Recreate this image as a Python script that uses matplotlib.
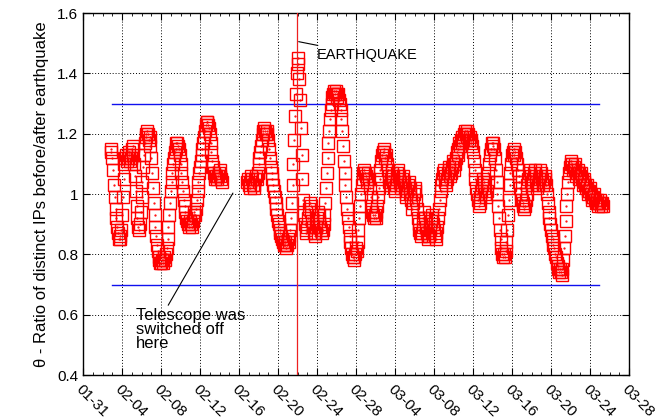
import numpy as np
import pandas as pd
import matplotlib
matplotlib.use("Agg")
import matplotlib.pyplot as plt
import matplotlib.dates as mdates

plt.rcParams['font.family'] = ['Liberation Sans', 'DejaVu Sans']

# ---- data (2-hourly ratio values) ----
seg1_start = "2011-02-02 20:00"
seg1_values = [
    1.15, 1.14, 1.12, 1.08, 1.03, 0.99, 0.95, 0.92, 0.89, 0.87, 0.85, 0.85,
    0.86, 0.88, 0.93, 0.99, 1.05, 1.10, 1.12, 1.13, 1.11, 1.12, 1.14, 1.13,
    1.11, 1.12, 1.15, 1.16, 1.13, 1.10, 1.06, 1.01, 0.96, 0.92, 0.89, 0.88,
    0.90, 0.94, 0.99, 1.04, 1.09, 1.13, 1.17, 1.19, 1.20, 1.21, 1.20, 1.18,
    1.19, 1.16, 1.12, 1.07, 1.02, 0.97, 0.93, 0.89, 0.86, 0.83, 0.81, 0.79,
    0.78, 0.77, 0.77, 0.78, 0.77, 0.78, 0.79, 0.78, 0.80, 0.82, 0.85, 0.89,
    0.93, 0.97, 1.01, 1.04, 1.07, 1.10, 1.12, 1.14, 1.15, 1.17, 1.17, 1.16,
    1.15, 1.13, 1.10, 1.07, 1.04, 1.01, 0.98, 0.96, 0.94, 0.92, 0.91, 0.90,
    0.89, 0.90, 0.91, 0.90, 0.89, 0.91, 0.93, 0.94, 0.93, 0.95, 0.98, 1.01,
    1.04, 1.07, 1.09, 1.11, 1.13, 1.15, 1.17, 1.19, 1.21, 1.23, 1.24, 1.24,
    1.23, 1.22, 1.20, 1.17, 1.14, 1.11, 1.09, 1.07, 1.06, 1.05, 1.06, 1.05,
    1.06, 1.07, 1.08, 1.06, 1.05, 1.04,
]
seg2_start = "2011-02-16 20:00"
seg2_values = [
    1.04, 1.05, 1.03, 1.02, 1.04, 1.06, 1.05, 1.03, 1.02, 1.03, 1.05, 1.06,
    1.05, 1.07, 1.10, 1.12, 1.14, 1.16, 1.18, 1.20, 1.21, 1.22, 1.21, 1.20,
    1.21, 1.20, 1.18, 1.15, 1.12, 1.09, 1.07, 1.05, 1.03, 1.01, 0.99, 0.97,
    0.95, 0.93, 0.91, 0.90, 0.88, 0.87, 0.86, 0.85, 0.84, 0.83, 0.84, 0.83,
    0.82, 0.83, 0.85, 0.84, 0.86, 0.88, 0.92, 0.97, 1.03, 1.10, 1.18, 1.26,
    1.33, 1.40, 1.45, 1.43, 1.38, 1.31, 1.22, 1.13, 1.05, 0.98, 0.93, 0.90,
    0.88, 0.87, 0.89, 0.92, 0.95, 0.97, 0.96, 0.94, 0.91, 0.89, 0.87, 0.86,
    0.87, 0.89, 0.92, 0.94, 0.93, 0.91, 0.89, 0.88, 0.87, 0.88, 0.90, 0.93,
    0.97, 1.02, 1.07, 1.12, 1.17, 1.21, 1.25, 1.28, 1.30, 1.32, 1.33, 1.34,
    1.33, 1.34, 1.33, 1.32, 1.33, 1.31, 1.30, 1.28, 1.25, 1.21, 1.16, 1.11,
    1.07, 1.03, 0.99, 0.95, 0.92, 0.89, 0.86, 0.84, 0.82, 0.80, 0.79, 0.78,
    0.79, 0.80, 0.82, 0.81, 0.84, 0.88, 0.92, 0.96, 1.00, 1.03, 1.05, 1.07,
    1.08, 1.07, 1.06, 1.04, 1.05, 1.07, 1.05, 1.02, 0.99, 0.96, 0.94, 0.93,
    0.92, 0.93, 0.92, 0.94, 0.96, 0.99, 1.02, 1.05, 1.08, 1.11, 1.13, 1.14,
    1.15, 1.14, 1.12, 1.13, 1.10, 1.08, 1.06, 1.04, 1.03, 1.05, 1.07, 1.06,
    1.04, 1.02, 1.01, 1.03, 1.05, 1.07, 1.08, 1.06, 1.04, 1.02, 1.03, 1.05,
    1.06, 1.04, 1.02, 1.00, 0.99, 1.01, 1.03, 1.04, 1.02, 1.00, 0.98, 0.95,
    0.97, 1.00, 1.02, 1.01, 0.98, 0.95, 0.92, 0.90, 0.88, 0.87, 0.86, 0.87,
    0.89, 0.92, 0.94, 0.92, 0.89, 0.87, 0.86, 0.85, 0.86, 0.88, 0.91, 0.93,
    0.92, 0.90, 0.88, 0.86, 0.85, 0.87, 0.89, 0.92, 0.95, 0.98, 1.01, 1.03,
    1.05, 1.07, 1.08, 1.06, 1.04, 1.03, 1.05, 1.07, 1.09, 1.08, 1.06, 1.07,
    1.09, 1.11, 1.10, 1.08, 1.10, 1.12, 1.14, 1.13, 1.15, 1.17, 1.16, 1.18,
    1.17, 1.19, 1.18, 1.20, 1.21, 1.20, 1.19, 1.21, 1.20, 1.18, 1.19, 1.17,
    1.18, 1.16, 1.14, 1.11, 1.08, 1.05, 1.02, 1.00, 0.98, 0.96, 0.97, 0.99,
    1.01, 1.03, 1.05, 1.04, 1.02, 1.00, 0.99, 1.01, 1.04, 1.07, 1.10, 1.13,
    1.15, 1.17, 1.16, 1.17, 1.15, 1.12, 1.08, 1.04, 1.00, 0.96, 0.92, 0.88,
    0.85, 0.82, 0.80, 0.79, 0.80, 0.79, 0.81, 0.84, 0.88, 0.93, 0.98, 1.03,
    1.07, 1.10, 1.13, 1.14, 1.15, 1.13, 1.14, 1.12, 1.10, 1.08, 1.06, 1.04,
    1.02, 1.00, 0.98, 0.97, 0.96, 0.95, 0.96, 0.98, 1.00, 1.03, 1.05, 1.07,
    1.08, 1.06, 1.04, 1.03, 1.05, 1.07, 1.08, 1.06, 1.04, 1.02, 1.03, 1.05,
    1.06, 1.08, 1.07, 1.05, 1.03, 1.04, 1.06, 1.05, 1.03, 1.00, 0.97, 0.94,
    0.92, 0.90, 0.88, 0.86, 0.85, 0.83, 0.82, 0.80, 0.79, 0.77, 0.76, 0.75,
    0.74, 0.75, 0.74, 0.73, 0.75, 0.78, 0.82, 0.86, 0.91, 0.96, 1.00, 1.04,
    1.07, 1.09, 1.10, 1.11, 1.10, 1.08, 1.09, 1.10, 1.08, 1.06, 1.07, 1.08,
    1.07, 1.05, 1.06, 1.07, 1.05, 1.03, 1.04, 1.05, 1.03, 1.02, 1.03, 1.01,
    1.00, 1.01, 1.02, 1.00, 0.99, 0.98, 0.99, 1.00, 0.98, 0.97, 0.98, 0.97,
    0.96, 0.97, 0.98, 0.97, 0.96, 0.97, 0.96,
]
sample_freq = "2h"

upper_threshold = 1.3
lower_threshold = 0.7
threshold_start = "2011-02-03 00:00"
threshold_end = "2011-03-24 22:00"
earthquake_time = "2011-02-21 23:51"

x_tick_dates = pd.date_range("2011-01-31", "2011-03-28", freq="4D")
x_tick_labels = [d.strftime("%m-%d") for d in x_tick_dates]
y_ticks = [0.4, 0.6, 0.8, 1.0, 1.2, 1.4, 1.6]
y_tick_labels = ["0.4", "0.6", "0.8", "1", "1.2", "1.4", "1.6"]

# ---- figure ----
fig = plt.figure(figsize=(6.6, 4.19), dpi=100)
ax = fig.add_axes([83 / 660, 44 / 419, 546 / 660, 362 / 419])

t1 = pd.date_range(seg1_start, periods=len(seg1_values), freq=sample_freq)
t2 = pd.date_range(seg2_start, periods=len(seg2_values), freq=sample_freq)
for t, v in ((t1, seg1_values), (t2, seg2_values)):
    ax.plot(t, v, linestyle="none", marker="s", markersize=8.3,
            markerfacecolor="none", markeredgecolor="red", markeredgewidth=1.0,
            zorder=3)
    ax.plot(t, v, linestyle="none", marker=".", markersize=1.2,
            color="red", zorder=3)

ths, the = pd.Timestamp(threshold_start), pd.Timestamp(threshold_end)
ax.plot([ths, the], [upper_threshold, upper_threshold], color="#1010ee", lw=1.0, zorder=2)
ax.plot([ths, the], [lower_threshold, lower_threshold], color="#1010ee", lw=1.0, zorder=2)

eq = pd.Timestamp(earthquake_time)
ax.axvline(eq, color="#ee2020", lw=0.9, zorder=4)

# annotations
ax.annotate("EARTHQUAKE", xy=(eq + pd.Timedelta(hours=3), 1.505),
            xytext=(pd.Timestamp("2011-02-24 00:00"), 1.46),
            fontsize=10.5, va="center", ha="left",
            arrowprops=dict(arrowstyle="-", color="black", lw=0.8,
                            shrinkA=0, shrinkB=0))
ax.annotate("Telescope was\nswitched off\nhere",
            xy=(pd.Timestamp("2011-02-15 09:00"), 1.003),
            xytext=(pd.Timestamp("2011-02-05 10:30"), 0.622),
            fontsize=12, va="top", ha="left", linespacing=0.92,
            arrowprops=dict(arrowstyle="-", color="black", lw=0.8,
                            shrinkA=0, shrinkB=0, relpos=(0.28, 1.0)))

ax.set_xlim(pd.Timestamp("2011-01-31"), pd.Timestamp("2011-03-28"))
ax.set_ylim(0.4, 1.6)
ax.set_xticks(x_tick_dates)
ax.set_xticklabels(x_tick_labels, rotation=-45, ha="left", va="top",
                   rotation_mode="anchor", fontsize=11)
ax.xaxis.set_minor_locator(mdates.DayLocator())
ax.set_yticks(y_ticks)
ax.set_yticklabels(y_tick_labels, fontsize=11)
ax.tick_params(which="both", direction="in", top=True, right=True)
ax.tick_params(which="major", length=5, width=0.8)
ax.tick_params(which="minor", length=2.5, width=0.6)
ax.tick_params(axis="x", which="major", pad=5)
ax.grid(True, which="major", linestyle=(0, (1, 2)), color="black", lw=0.7)
for s in ax.spines.values():
    s.set_linewidth(1.0)

ax.set_ylabel("θ - Ratio of distinct IPs before/after earthquake", fontsize=12,
              labelpad=6)

fig.savefig("out.png", dpi=100)
